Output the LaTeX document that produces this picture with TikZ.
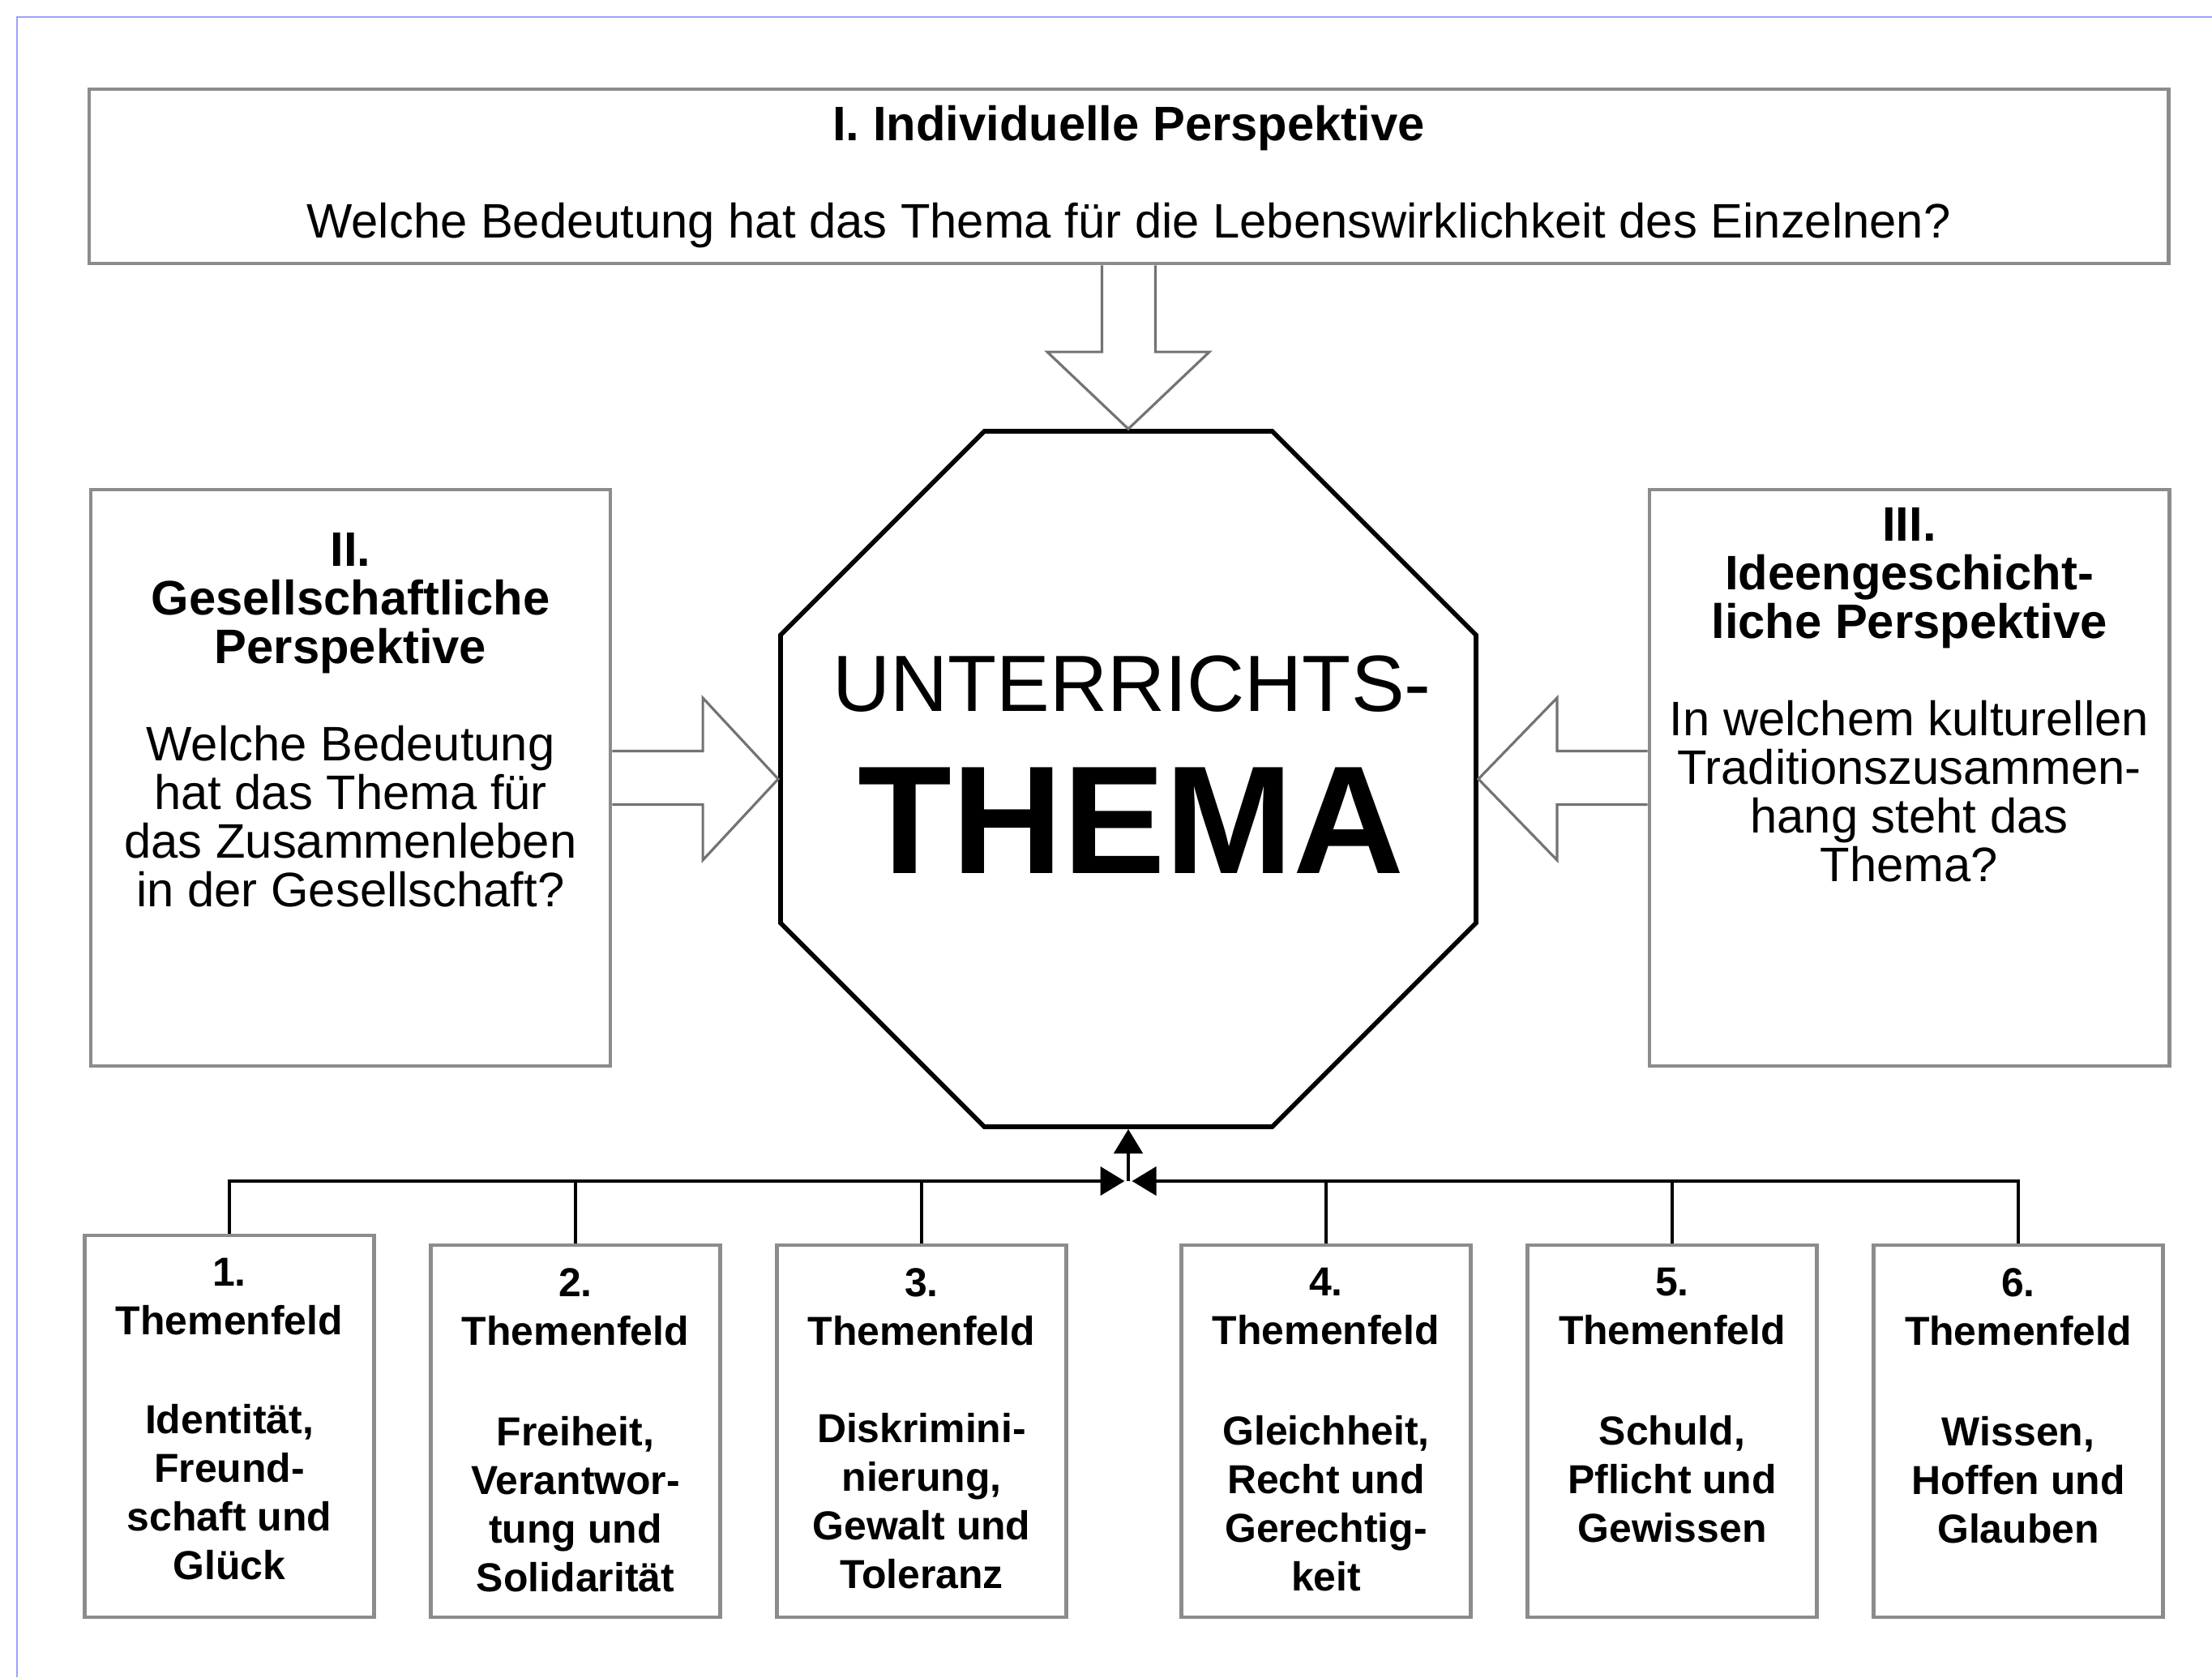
\documentclass[tikz,border=0pt]{standalone}
\usepackage{fontspec}
\setmainfont{Liberation Sans}
\usetikzlibrary{shapes.geometric,arrows.meta,calc}
\definecolor{framebl}{RGB}{160,160,255}
\definecolor{boxgr}{RGB}{140,140,140}
\tikzset{
  perspbox/.style={draw=boxgr,line width=1.4pt,fill=white,inner sep=0pt},
  persptext/.style={align=center,inner sep=0pt,anchor=north,font=\fontsize{17}{17.07}\selectfont},
  tfbox/.style={draw=boxgr,line width=1.4pt,minimum width=3.57cm,minimum height=4.59cm,inner sep=0pt},
  tftext/.style={align=center,inner sep=0pt,anchor=north,font=\fontsize{14.2}{17.07}\selectfont\bfseries},
  blockarrow/.style={draw=black!55,line width=0.9pt,fill=white,line join=miter},
  busline/.style={line width=1.3pt},
  bustip/.style={-{Triangle[width=3.5mm,length=3mm]}}
}
\begin{document}
\begin{tikzpicture}
\useasboundingbox (0,0) rectangle (27.29,20.69);
% Frame
\draw[framebl,line width=0.7pt] (0.21,0) -- (0.21,20.48) -- (27.29,20.48);
% Perspektiven
\node[perspbox,minimum width=25.65cm,minimum height=2.15cm] (persp1) at (13.925,18.515) {};
\node[perspbox,minimum width=6.41cm,minimum height=7.11cm] (persp2) at (4.325,11.095) {};
\node[perspbox,minimum width=6.41cm,minimum height=7.11cm] (persp3) at (23.555,11.095) {};
\node[persptext] (persp1txt) at (13.925,19.395) {\textbf{I. Individuelle Perspektive}\\[0.6cm]
  Welche Bedeutung hat das Thema für die Lebenswirklichkeit des Einzelnen?};
\node[persptext] (persp2txt) at (4.325,14.125) {\textbf{II.}\\\textbf{Gesellschaftliche}\\\textbf{Perspektive}\\[0.6cm]
  Welche Bedeutung\\hat das Thema für\\das Zusammenleben\\in der Gesellschaft?};
\node[persptext] (persp3txt) at (23.555,14.43) {\textbf{III.}\\\textbf{Ideengeschicht-}\\\textbf{liche Perspektive}\\[0.6cm]
  In welchem kulturellen\\Traditionszusammen-\\hang steht das\\Thema?};
% Thema
\node[regular polygon,regular polygon sides=8,draw,line width=1.6pt,minimum size=9.287cm,inner sep=0pt] (thema) at (13.92,11.08) {};
\node[anchor=base,inner sep=0pt,font=\fontsize{28}{28}\selectfont] (thema1) at (13.965,11.91) {UNTERRICHTS-};
\node[anchor=base,inner sep=0pt,font=\fontsize{54}{54}\selectfont\bfseries] (thema2) at (13.955,9.92) {THEMA};
% Block arrows
\draw[blockarrow] ([xshift=-3.3mm]persp1.south) |- ($(thema.north)+(-1,0.95)$) -- (thema.north)
  -- ($(thema.north)+(1,0.95)$) -| ([xshift=3.3mm]persp1.south);
\draw[blockarrow] ([yshift=3.3mm]persp2.east) -| ($(thema.west)+(-0.93,1)$) -- (thema.west)
  -- ($(thema.west)+(-0.93,-1)$) |- ([yshift=-3.3mm]persp2.east);
\draw[blockarrow] ([yshift=3.3mm]persp3.west) -| ($(thema.east)+(0.97,1)$) -- (thema.east)
  -- ($(thema.east)+(0.97,-1)$) |- ([yshift=-3.3mm]persp3.west);
% Themenfelder
\node[tfbox,minimum height=4.71cm] (tf1) at (2.83,3.095) {};
\node[tfbox] (tf2) at (7.10,3.035) {};
\node[tfbox] (tf3) at (11.37,3.035) {};
\node[tfbox] (tf4) at (16.36,3.035) {};
\node[tfbox] (tf5) at (20.63,3.035) {};
\node[tfbox] (tf6) at (24.90,3.035) {};
\node[tftext] (tf1txt) at ($(tf1.north)+(0,-0.30)$) {1.\\Themenfeld\\[0.62cm]Identität,\\Freund-\\schaft und\\Glück};
\node[tftext] (tf2txt) at ($(tf2.north)+(0,-0.30)$) {2.\\Themenfeld\\[0.64cm]Freiheit,\\Verantwor-\\tung und\\Solidarität};
\node[tftext] (tf3txt) at ($(tf3.north)+(0,-0.30)$) {3.\\Themenfeld\\[0.60cm]Diskrimini-\\nierung,\\Gewalt und\\Toleranz};
\node[tftext] (tf4txt) at ($(tf4.north)+(0,-0.30)$) {4.\\Themenfeld\\[0.64cm]Gleichheit,\\Recht und\\Gerechtig-\\keit};
\node[tftext] (tf5txt) at ($(tf5.north)+(0,-0.30)$) {5.\\Themenfeld\\[0.64cm]Schuld,\\Pflicht und\\Gewissen};
\node[tftext] (tf6txt) at ($(tf6.north)+(0,-0.30)$) {6.\\Themenfeld\\[0.64cm]Wissen,\\Hoffen und\\Glauben};
% Bus
\coordinate (hub) at (13.92,6.12);
\draw[busline,bustip] (tf1.north) |- ([xshift=-0.45mm]hub);
\draw[busline,bustip] (tf6.north) |- ([xshift=0.45mm]hub);
\draw[busline] (tf2.north) -- (tf2.north |- hub);
\draw[busline] (tf3.north) -- (tf3.north |- hub);
\draw[busline] (tf4.north) -- (tf4.north |- hub);
\draw[busline] (tf5.north) -- (tf5.north |- hub);
\draw[busline,bustip] (hub) -- (thema.south);
\end{tikzpicture}
\end{document}
